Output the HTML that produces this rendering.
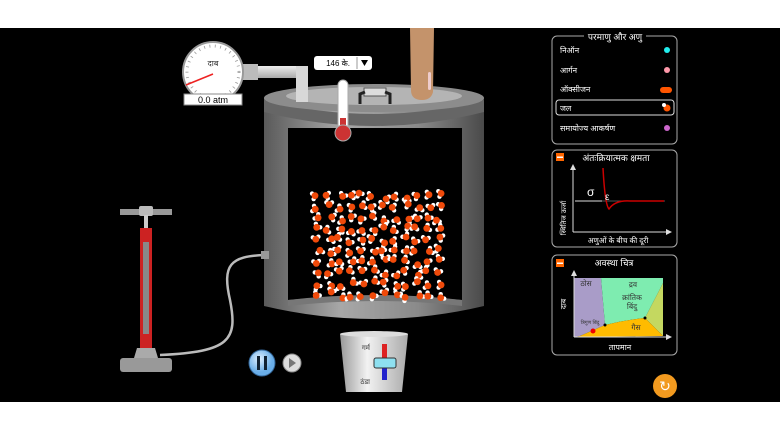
<!DOCTYPE html>
<html><head><meta charset="utf-8"><style>
html,body{margin:0;padding:0;background:#fff;width:780px;height:430px;overflow:hidden}
svg{display:block}
text{font-family:"Liberation Sans","Noto Sans CJK SC",sans-serif}
</style></head><body>
<svg width="780" height="430" viewBox="0 0 780 430" xmlns="http://www.w3.org/2000/svg">
<defs>
<linearGradient id="cyl" x1="0" x2="1"><stop offset="0" stop-color="#5a5a5a"/><stop offset="0.35" stop-color="#a8a8a8"/><stop offset="0.7" stop-color="#8a8a8a"/><stop offset="1" stop-color="#4a4a4a"/></linearGradient>
<linearGradient id="pipe" x1="0" y1="0" x2="0" y2="1"><stop offset="0" stop-color="#eee"/><stop offset="1" stop-color="#aaa"/></linearGradient>
<linearGradient id="buck" x1="0" x2="1"><stop offset="0" stop-color="#999"/><stop offset="0.4" stop-color="#f2f2f2"/><stop offset="1" stop-color="#aaa"/></linearGradient>
<radialGradient id="btn" cx="0.4" cy="0.35"><stop offset="0" stop-color="#e0f0ff"/><stop offset="1" stop-color="#6aaee8"/></radialGradient>
</defs>
<rect x="0" y="28" width="780" height="374" fill="#000"/>
<!-- container -->
<path d="M264 98 L264 306 Q374 332 484 306 L484 98 Z" fill="url(#cyl)"/>
<path d="M264 100 Q374 128 484 100 L484 112 Q374 140 264 112Z" fill="#666"/>
<ellipse cx="374" cy="98" rx="110" ry="14" fill="#8c8c8c"/>
<ellipse cx="374" cy="96" rx="88" ry="9" fill="#b4b4b4"/>
<path d="M288 128 L462 128 L462 300 Q375 292 288 300 Z" fill="#000"/>
<path d="M288 300 Q375 290 462 300 L462 306 Q375 296 288 306Z" fill="#777"/>
<g id="mol"></g>
<!-- gauge -->
<rect x="240" y="66" width="66" height="12" fill="url(#pipe)"/>
<rect x="296" y="66" width="12" height="36" fill="#d8d8d8"/>
<rect x="238" y="64" width="20" height="16" fill="#bbb"/>
<circle cx="213" cy="72" r="30" fill="#fff" stroke="#999" stroke-width="2"/>
<circle cx="213" cy="72" r="26" fill="none" stroke="#999" stroke-width="3" stroke-dasharray="0.8 4.6"/>
<text x="213" y="66" font-size="8" text-anchor="middle" fill="#333">दाब</text>
<line x1="213" y1="74" x2="186" y2="85" stroke="#e22" stroke-width="1.5"/>
<rect x="184" y="94" width="58" height="11" fill="#fff" stroke="#888"/>
<text x="213" y="103" font-size="9" text-anchor="middle" fill="#000">0.0 atm</text>
<!-- dropdown -->
<rect x="314" y="56" width="58" height="14" rx="3" fill="#fff"/>
<text x="350" y="66" font-size="8" text-anchor="end">146 के.</text>
<line x1="357" y1="57" x2="357" y2="69" stroke="#999"/>
<path d="M361 60 L368 60 L364.5 66Z" fill="#000"/>
<!-- thermometer -->
<rect x="338" y="80" width="10" height="52" rx="5" fill="#fff" stroke="#aaa"/>
<rect x="340" y="118" width="6" height="14" fill="#c33"/>
<circle cx="343" cy="133" r="8" fill="#c33" stroke="#aaa"/>
<!-- handle -->
<rect x="364" y="88" width="22" height="8" fill="#ddd" stroke="#555"/>
<path d="M360 104 L360 94 L365 92 M390 104 L390 94 L385 92" stroke="#222" stroke-width="3" fill="none"/>
<!-- finger -->
<path d="M410 28 L434 28 L433 92 Q431 100 422 100 Q411 100 411 90 Z" fill="#c4936b"/>
<rect x="428" y="72" width="3" height="18" rx="1.5" fill="#ecc"/>
<!-- pump -->
<rect x="120" y="209" width="52" height="6" fill="#999"/>
<rect x="139" y="206" width="14" height="10" rx="2" fill="#bbb"/>
<rect x="144" y="215" width="4" height="14" fill="#ccc"/>
<rect x="140" y="228" width="12" height="120" fill="#c22"/>
<rect x="143" y="242" width="6" height="92" fill="#888"/>
<path d="M160 355 C230 352 238 340 230 300 C222 265 230 256 265 255" stroke="#bbb" stroke-width="2.5" fill="none"/>
<rect x="261" y="251" width="8" height="8" fill="#999"/>
<path d="M137 348 L155 348 L158 358 L134 358Z" fill="#aaa"/>
<rect x="120" y="358" width="52" height="14" rx="3" fill="#999"/>
<!-- bucket -->
<path d="M340 334 L408 334 L402 392 L346 392 Z" fill="url(#buck)"/>
<ellipse cx="374" cy="334" rx="34" ry="3" fill="#ddd"/>
<rect x="382" y="344" width="5" height="18" fill="#d22"/>
<rect x="382" y="362" width="5" height="18" fill="#22c"/>
<rect x="374" y="358" width="22" height="10" rx="2" fill="#8ee0f0" stroke="#333"/>
<text x="370" y="350" font-size="7" text-anchor="end" fill="#333">गर्म</text>
<text x="370" y="384" font-size="7" text-anchor="end" fill="#333">ठंडा</text>
<!-- controls -->
<circle cx="262" cy="363" r="13" fill="url(#btn)" stroke="#369"/>
<rect x="257" y="356" width="3" height="14" fill="#123"/><rect x="264" y="356" width="3" height="14" fill="#123"/>
<circle cx="292" cy="363" r="9" fill="#ddd" stroke="#888"/>
<path d="M289 358 L289 368 L296 363Z" fill="#777"/>
<circle cx="665" cy="386" r="12" fill="#f29a1f"/>
<text x="665" y="391" font-size="14" text-anchor="middle" fill="#fff">↻</text>
<!-- panel 1 -->
<rect x="552" y="36" width="125" height="108" rx="5" fill="#000" stroke="#aaa"/>
<rect x="584" y="31" width="62" height="10" fill="#000"/>
<text x="615" y="40" font-size="9" fill="#fff" text-anchor="middle">परमाणु और अणु</text>
<g font-size="8" fill="#fff">
<text x="560" y="53">निऑन</text><circle cx="667" cy="50" r="3" fill="#2ee"/>
<text x="560" y="73">आर्गन</text><circle cx="667" cy="70" r="3" fill="#f9a"/>
<text x="560" y="92">ऑक्सीजन</text><rect x="660" y="87" width="12" height="6" rx="3" fill="#f50"/>
<rect x="556" y="100" width="118" height="15" rx="3" fill="none" stroke="#ddd"/>
<text x="560" y="111">जल</text><circle cx="667" cy="108" r="3.5" fill="#f50"/><circle cx="664" cy="105" r="2" fill="#fff"/>
<text x="560" y="131">समायोज्य आकर्षण</text><circle cx="667" cy="128" r="3" fill="#c6c"/>
</g>
<!-- panel 2 -->
<rect x="552" y="150" width="125" height="97" rx="5" fill="#000" stroke="#aaa"/>
<rect x="556" y="153" width="8" height="8" fill="#f60"/><rect x="557" y="156.5" width="6" height="1.5" fill="#fff"/>
<text x="616" y="161" font-size="9" fill="#fff" text-anchor="middle">अंतःक्रियात्मक क्षमता</text>
<line x1="573" y1="232" x2="573" y2="168" stroke="#ddd"/><path d="M570 170 L573 164 L576 170Z" fill="#ddd"/>
<line x1="573" y1="232" x2="668" y2="232" stroke="#ddd"/><path d="M666 229 L672 232 L666 235Z" fill="#ddd"/>
<line x1="575" y1="201" x2="665" y2="201" stroke="#555"/>
<line x1="575" y1="201" x2="602" y2="201" stroke="#ddd"/>
<path d="M603 168 Q605 205 609 209 Q615 200 630 201 L664 201" stroke="#c00" stroke-width="1.5" fill="none"/>
<text x="587" y="196" font-size="12" fill="#fff">σ</text><text x="605" y="200" font-size="10" fill="#fff">ε</text>
<text x="566" y="218" font-size="7" fill="#fff" transform="rotate(-90 566 218)" text-anchor="middle">स्थितिज ऊर्जा</text>
<text x="618" y="243" font-size="7.5" fill="#fff" text-anchor="middle">अणुओं के बीच की दूरी</text>
<!-- panel 3 -->
<rect x="552" y="255" width="125" height="100" rx="5" fill="#000" stroke="#aaa"/>
<rect x="556" y="259" width="8" height="8" fill="#f60"/><rect x="557" y="262.5" width="6" height="1.5" fill="#fff"/>
<text x="614" y="266" font-size="9" fill="#fff" text-anchor="middle">अवस्था चित्र</text>
<path d="M574 278 L601 278 L605 325 L580 336 L574 337Z" fill="#a99cc8"/>
<path d="M601 278 L663 278 L663 283 L645 318 Q625 320 605 325Z" fill="#7eecb0"/>
<path d="M663 283 L663 336 L645 318Z" fill="#c4d860"/>
<path d="M574 337 L580 336 L605 325 Q625 320 645 318 L663 336 Z" fill="#ffbb00"/>
<line x1="574" y1="337" x2="574" y2="274" stroke="#ddd"/><path d="M571 276 L574 270 L577 276Z" fill="#ddd"/>
<line x1="574" y1="337" x2="668" y2="337" stroke="#ddd"/><path d="M666 334 L672 337 L666 340Z" fill="#ddd"/>
<circle cx="593" cy="331" r="2.5" fill="#e00"/><circle cx="605" cy="325" r="1.5" fill="#000"/><circle cx="645" cy="318" r="1.5" fill="#000"/>
<g font-size="7.5" fill="#333" text-anchor="middle"><text x="586" y="286">ठोस</text><text x="633" y="287">द्रव</text><text x="632" y="300">क्रांतिक</text><text x="632" y="309">बिंदु</text><text x="636" y="330">गैस</text><text x="590" y="324" font-size="5">त्रिगुण बिंदु</text></g>
<text x="566" y="304" font-size="7.5" fill="#fff" transform="rotate(-90 566 304)" text-anchor="middle">दाब</text>
<text x="620" y="350" font-size="8" fill="#fff" text-anchor="middle">तापमान</text>
</svg>
<script>
var g=document.getElementById('mol'),s=11;function r(){s=(s*16807)%2147483647;return s/2147483647;}
var h='';
for(var gx=0;gx<12;gx++)for(var gy=0;gy<10;gy++){var x=318+gx*11+(r()-0.5)*6,y=196+gy*11+(r()-0.5)*6;
var top=x<372?206+Math.max(0,(360-x))*0.1:(x<402?192:204);if(y<top)continue;
var a=r()*6.28;h+='<circle cx="'+(x+3.6*Math.cos(a))+'" cy="'+(y+3.6*Math.sin(a))+'" r="2.2" fill="#fff"/><circle cx="'+(x+3.6*Math.cos(a+1.8))+'" cy="'+(y+3.6*Math.sin(a+1.8))+'" r="2.2" fill="#fff"/><circle cx="'+x+'" cy="'+y+'" r="3.4" fill="#f04a0a"/>';}
g.innerHTML=h;
</script>
</body></html>
